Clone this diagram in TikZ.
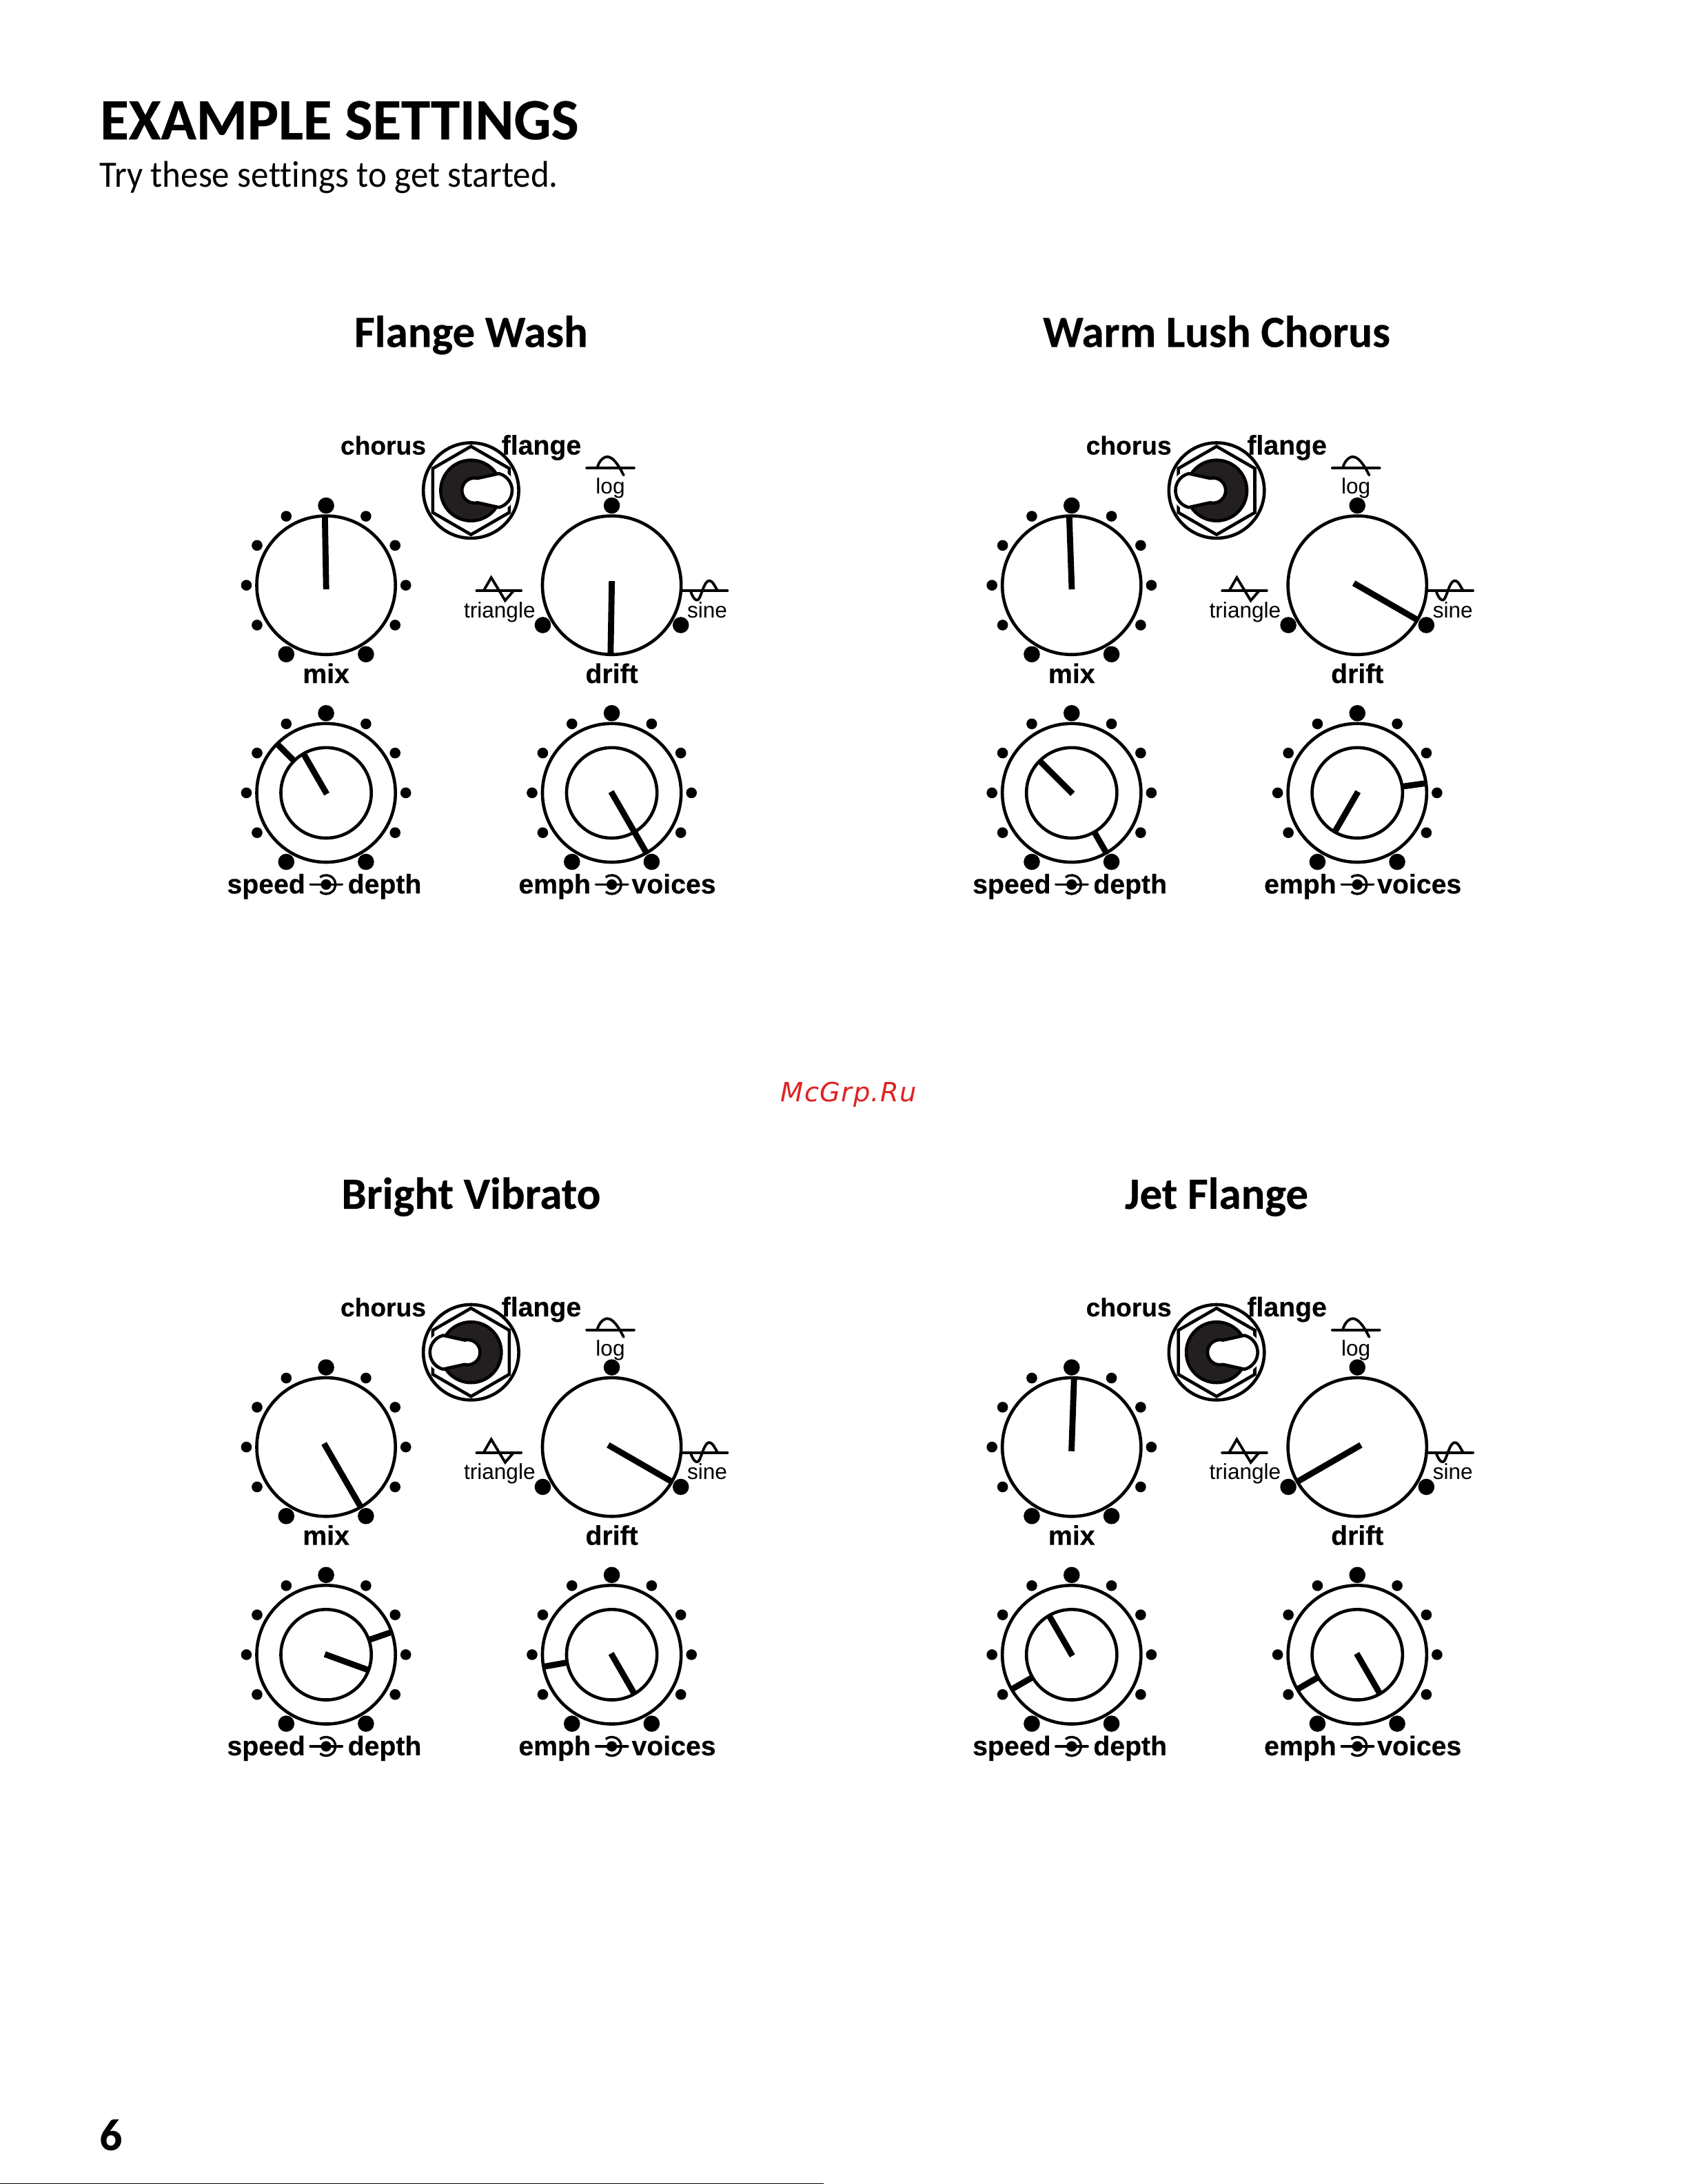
\documentclass[tikz,border=0pt]{standalone}
\usepackage{fontspec}
\usetikzlibrary{shapes.geometric}
\setmainfont[Ligatures=NoCommon, BoldFeatures={FakeBold=0.35}]{Carlito}
\newfontfamily\subheadfont[Ligatures=NoCommon, FakeStretch=0.945]{Carlito}
\newfontfamily\panelfont[BoldFeatures={FakeBold=0.4}]{Liberation Sans}
\newfontfamily\markfont[LetterSpace=3.5]{DejaVu Sans}

\definecolor{switchdark}{HTML}{231F20}
\definecolor{markred}{HTML}{DF2222}

\tikzstyle{knob} = [shape=circle, draw=black, line width=1.15pt, fill=white, inner sep=0pt, outer sep=0pt, minimum size=50.3pt]
\tikzstyle{innerknob} = [shape=circle, draw=black, line width=1.15pt, inner sep=0pt, outer sep=0pt, minimum size=32.8pt]
\tikzstyle{nut} = [shape=circle, draw=black, line width=1.15pt, inner sep=0pt, outer sep=0pt, minimum size=34.6pt]
\tikzstyle{hexnut} = [shape=regular polygon, regular polygon sides=6, shape border rotate=30, draw=black, line width=1.15pt, inner sep=0pt, minimum size=32pt]
\tikzstyle{switchbase} = [shape=circle, draw=black, line width=1.15pt, fill=switchdark, inner sep=0pt, minimum size=22pt]
\tikzstyle{bigdot} = [shape=circle, fill=black, inner sep=0pt, minimum size=5.9pt]
\tikzstyle{smalldot} = [shape=circle, fill=black, inner sep=0pt, minimum size=3.9pt]
\tikzstyle{pointer} = [line width=2.2pt]
\tikzstyle{waveline} = [line width=0.95pt, line cap=round]
\tikzstyle{boldlabel} = [font=\panelfont\bfseries\fontsize{9.8}{11}\selectfont, inner sep=0pt, anchor=base]
\tikzstyle{thinlabel} = [font=\panelfont\fontsize{7.9}{9}\selectfont, inner sep=0pt, anchor=base]
\tikzstyle{paneltitle} = [font=\bfseries\fontsize{16.2}{18}\selectfont, inner sep=0pt, anchor=base]

% dots round a knob
\newcommand{\clockdots}[1]{
	\foreach \ang in {0,30,60,120,150,180,-150,-30} \node[smalldot] (#1-s\ang) at ([shift={(\ang:28.9pt)}]#1.center) {};
	\foreach \ang in {90,-120,-60} \node[bigdot] (#1-b\ang) at ([shift={(\ang:28.9pt)}]#1.center) {};
}

% small jack symbol between two labels
\newcommand{\jack}[2]{
	\coordinate (#1) at (#2,634.8);
	\draw[waveline] ([xshift=-5.7pt]#1) -- ([xshift=5.8pt]#1);
	\fill (#1) circle (1.9pt);
	\draw[line width=0.85pt] ([shift={(130:3.4pt)}]#1) arc[start angle=130, end angle=-130, radius=3.4pt];
}

% one settings panel: name, origin, title, switch side
\newcommand{\panel}[4]{
\begin{scope}[shift={(#2)}]
	\node[knob] (#1-mix) at (234,420) {};
	\node[knob] (#1-drift) at (439,420) {};
	\node[knob] (#1-outA) at (234,569) {};
	\node[innerknob] (#1-inA) at (234,569) {};
	\node[knob] (#1-outB) at (439,569) {};
	\node[innerknob] (#1-inB) at (439,569) {};

	\clockdots{#1-mix}
	\clockdots{#1-outA}
	\clockdots{#1-outB}
	\node[bigdot] (#1-log) at ([yshift=28.9pt]#1-drift.center) {};
	\node[bigdot] (#1-tri) at ([shift={(-150:28.9pt)}]#1-drift.center) {};
	\node[bigdot] (#1-sin) at ([shift={(-30:28.9pt)}]#1-drift.center) {};

	% toggle switch
	\node[nut] (#1-nut) at (338,352) {};
	\node[hexnut] (#1-hex) at (338,352) {};
	\node[switchbase] (#1-base) at (338,352) {};
	\begin{scope}[shift={(338,352)}, xscale=#4]
		\draw[white, line width=2.8pt] (20.02,-12.13) arc[start angle=-76, end angle=76, radius=12.5];
		\draw[line width=1.15pt, fill=white] (20.02,-12.13) arc[start angle=-76, end angle=76, radius=12.5] -- (4.68,8.73) arc[start angle=76, end angle=284, radius=9] -- cycle;
	\end{scope}

	% labels
	\node[paneltitle] (#1-title) at (338,249) {#3};
	\node[boldlabel, font=\panelfont\bfseries\fontsize{9.3}{11}\selectfont] (#1-chorus) at (275,326.2) {chorus};
	\node[boldlabel] (#1-flange) at (388.5,326.2) {flange};
	\node[boldlabel] (#1-mixlab) at (234,490.2) {mix};
	\node[boldlabel] (#1-driftlab) at (439,490.2) {drift};
	\node[boldlabel] (#1-speed) at (191,641.2) {speed};
	\node[boldlabel] (#1-depth) at (276,641.2) {depth};
	\node[boldlabel] (#1-emph) at (398,641.2) {emph};
	\node[boldlabel] (#1-voices) at (483.5,641.2) {voices};
	\node[thinlabel] (#1-loglab) at (438,354.6) {log};
	\node[thinlabel] (#1-trilab) at (358.5,443.2) {triangle};
	\node[thinlabel] (#1-sinlab) at (507.5,443.2) {sine};

	% wave symbols
	\draw[waveline] (342,424) -- (374,424);
	\draw[waveline] (347,424) -- (352.5,414.5) -- (362.5,431) -- (368.5,424);
	\draw[waveline] (490,424) -- (522,424);
	\draw[waveline] (495.5,424) .. controls (497,429) and (500,433) .. (502,429) .. controls (504,425) and (506,415) .. (510,417) .. controls (512,418) and (513,421) .. (515,424);
	\draw[waveline] (421,336) -- (455,336);
	\draw[waveline] (428.5,336) .. controls (430,330) and (434,327) .. (437,328) .. controls (441,329) and (445,336) .. (447.5,341);
	\jack{#1-jackA}{234}
	\jack{#1-jackB}{439}
\end{scope}
}

% knob positions: name, mix, drift, speed, depth, emph, voices
\newcommand{\hands}[7]{
	\draw[pointer, shorten >=-1.5pt] (#1-mix.#2) -- (#1-mix.center);
	\draw[pointer, shorten >=-1.5pt] (#1-drift.#3) -- (#1-drift.center);
	\draw[pointer] (#1-outA.#4) -- (#1-inA.#4);
	\draw[pointer, shorten >=-0.5pt] (#1-inA.#5) -- (#1-inA.center);
	\draw[pointer] (#1-outB.#6) -- (#1-inB.#6);
	\draw[pointer, shorten >=-0.5pt] (#1-inB.#7) -- (#1-inB.center);
}

\begin{document}
\begin{tikzpicture}[x=0.5054pt, y=-0.5054pt]
	\useasboundingbox (0,0) rectangle (1211,1567.4);
	\fill[white] (0,0) rectangle (1211,1567.4);

	% page heading
	\node[inner sep=0pt, anchor=base west, font=\bfseries\fontsize{21.2}{24}\selectfont] (heading) at (71.5,100) {EXAMPLE SETTINGS};
	\node[inner sep=0pt, anchor=base west, font=\subheadfont\fontsize{13.5}{16}\selectfont] (subhead) at (71,134.5) {Try these settings to get started.};

	% Flange Wash
	\panel{fw}{0,0}{Flange Wash}{1}
	\hands{fw}{91}{-91}{135}{120}{-60}{-60}

	% Warm Lush Chorus
	\panel{wl}{535,0}{Warm Lush Chorus}{-1}
	\hands{wl}{92}{-30}{-60}{135}{8}{-120}

	% Bright Vibrato
	\panel{bv}{0,618.5}{Bright Vibrato}{-1}
	\hands{bv}{-60}{-30}{19}{-20}{190}{-60}

	% Jet Flange
	\panel{jf}{535,618.5}{Jet Flange}{1}
	\hands{jf}{88}{210}{-150}{120}{210}{-60}

	% page foot
	\node[inner sep=0pt, anchor=base west, font=\bfseries\fontsize{16.2}{18}\selectfont] (pagenum) at (71,1543) {6};
	\node[inner sep=0pt, anchor=base, text=markred, font=\markfont\itshape\fontsize{9.6}{11}\selectfont] (mark) at (609,790.5) {McGrp.Ru};
	\coordinate (footl) at (0,1567.15);
	\coordinate (footr) at (591,1567.15);
	\draw[line width=0.25pt] (footl) -- (footr);
\end{tikzpicture}
\end{document}
